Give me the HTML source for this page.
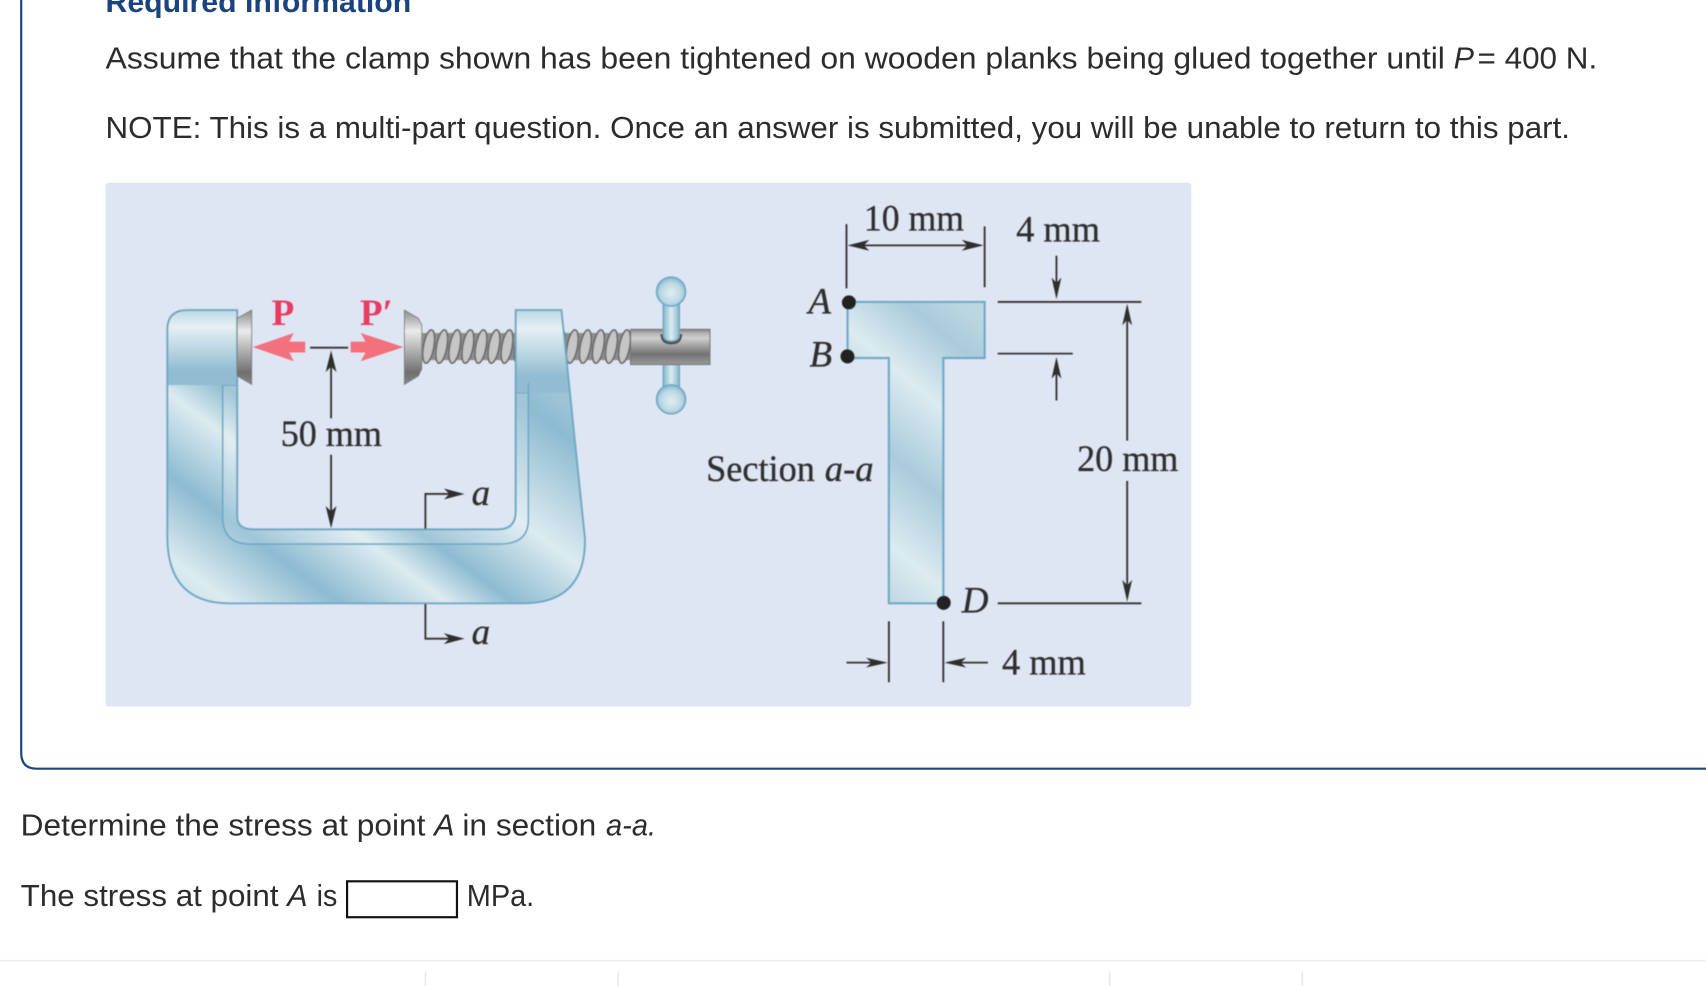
<!DOCTYPE html>
<html lang="en">
<head>
<meta charset="utf-8">
<title>Clamp stress question</title>
<style>
html,body{margin:0;padding:0;background:#fff;width:1706px;height:986px;overflow:hidden}
svg{display:block}
.t{font-family:"Liberation Sans",sans-serif;font-size:28px;fill:#2c2c2c}
.i{font-style:italic}
.s{font-family:"Liberation Serif",serif;font-size:34px;fill:#2f2f2f;stroke:#2f2f2f;stroke-width:.3}
.l{stroke:#333;stroke-width:1.7;fill:none}
.h{fill:#2f2f2f;stroke:none}
</style>
</head>
<body>
<svg xmlns="http://www.w3.org/2000/svg" width="1706" height="986" viewBox="0 0 1568 906.2">
<defs>
<linearGradient id="stripe" gradientUnits="userSpaceOnUse" x1="0" y1="420" x2="211.2" y2="138.4">
<stop offset="0" stop-color="#cfe3ea"/><stop offset=".055" stop-color="#dcebf0"/><stop offset=".227" stop-color="#8dbbd1"/><stop offset=".398" stop-color="#dcebf0"/><stop offset=".5" stop-color="#8dbbd1"/><stop offset=".68" stop-color="#dcebf0"/><stop offset=".93" stop-color="#8dbbd1"/><stop offset="1" stop-color="#9cc4d6"/>
</linearGradient>
<linearGradient id="head" x1="0" y1="0" x2="0" y2="1">
<stop offset="0" stop-color="#bcd9e4"/><stop offset=".22" stop-color="#e6f0f4"/><stop offset=".55" stop-color="#b6d4e0"/><stop offset=".8" stop-color="#92bcd2"/><stop offset="1" stop-color="#92bcd2"/>
</linearGradient>
<linearGradient id="gray" x1="0" y1="0" x2="0" y2="1">
<stop offset="0" stop-color="#8a8a8a"/><stop offset=".28" stop-color="#ececec"/><stop offset=".55" stop-color="#b0b0b0"/><stop offset=".85" stop-color="#6e6e6e"/><stop offset="1" stop-color="#8a8a8a"/>
</linearGradient>
<linearGradient id="block" x1="0" y1="0" x2="0" y2="1">
<stop offset="0" stop-color="#7f7f7f"/><stop offset=".1" stop-color="#b0b0b0"/><stop offset=".25" stop-color="#cfcfcf"/><stop offset=".7" stop-color="#737373"/><stop offset="1" stop-color="#9a9a9a"/>
</linearGradient>
<linearGradient id="bar" x1="0" y1="0" x2="1" y2="0">
<stop offset="0" stop-color="#86b6cd"/><stop offset=".5" stop-color="#dcebf1"/><stop offset="1" stop-color="#86b6cd"/>
</linearGradient>
<radialGradient id="ball" cx=".5" cy=".55" r=".55">
<stop offset="0" stop-color="#e0edf2"/><stop offset=".65" stop-color="#bcd8e4"/><stop offset="1" stop-color="#85b5cc"/>
</radialGradient>
<linearGradient id="tee" gradientUnits="userSpaceOnUse" x1="817" y1="564.45" x2="999.6" y2="349.65">
<stop offset="0" stop-color="#b8d4e0"/><stop offset=".176" stop-color="#dcebf0"/><stop offset=".4" stop-color="#a9cbdb"/><stop offset=".624" stop-color="#dcebf0"/><stop offset=".81" stop-color="#a9cbdb"/><stop offset=".93" stop-color="#bcd7e2"/><stop offset="1" stop-color="#c0d9e3"/>
</linearGradient>
<pattern id="thread" patternUnits="userSpaceOnUse" width="12" height="33" x="388" y="302">
<rect y="4" width="12" height="25" fill="#8f8f8f"/>
<ellipse cx="6" cy="16.500" rx="4.800" ry="15.500" fill="#c6c6c6" stroke="#666" stroke-width="1.500" transform="rotate(10 6 16.500)"/>
</pattern>
<filter id="soft" x="-2%" y="-2%" width="104%" height="104%"><feGaussianBlur stdDeviation="0.45"/></filter>
</defs>

<rect width="1568" height="907" fill="#fff"/>

<!-- question box -->
<path d="M19.500 -5 V692 Q19.500 706.500 34 706.500 H1570" fill="none" stroke="#1c4580" stroke-width="2"/>

<text x="97" y="11" font-family="Liberation Sans,sans-serif" font-weight="700" font-size="27" fill="#1a4480" textLength="281" lengthAdjust="spacingAndGlyphs">Required Information</text>

<text class="t" x="97" y="63" textLength="1231" lengthAdjust="spacingAndGlyphs">Assume that the clamp shown has been tightened on wooden planks being glued together until</text>
<text class="t i" x="1336" y="63">P</text>
<text class="t" x="1358" y="63" textLength="110" lengthAdjust="spacingAndGlyphs">= 400 N.</text>
<text class="t" x="97" y="127" textLength="1346" lengthAdjust="spacingAndGlyphs">NOTE: This is a multi-part question. Once an answer is submitted, you will be unable to return to this part.</text>

<!-- panel -->
<rect x="97" y="168" width="998" height="481.500" rx="3" fill="#dfe6f3"/>

<g filter="url(#soft)">
<!-- screw threads (behind clamp) -->
<rect x="388" y="302" width="87" height="33" fill="url(#thread)"/>
<rect x="510" y="302" width="70" height="33" fill="url(#thread)"/>

<!-- clamp body -->
<path d="M153.800 303 Q153.800 285 172 285 H218 V475 Q218 486.500 233 486.500 H458 Q474 486.500 474 470 V285 H516 L537.700 496 Q537.700 554.500 481 554.500 H211 Q153.800 554.500 153.800 493 Z" fill="url(#stripe)"/>
<!-- rib -->
<path d="M204.700 354 V475 Q204.700 500 230 500 H459 Q485.600 500 485.600 478 V361 H474 V470 Q474 486.500 458 486.500 H233 Q218 486.500 218 475 V354 Z" fill="#fff" fill-opacity=".16" stroke="#6fa8c4" stroke-width="1.500"/>
<!-- heads -->
<path d="M153.800 354 V303 Q153.800 285 172 285 H218 V354 Z" fill="url(#head)"/>
<path d="M473.400 285 H516 L523.600 361 H473.400 Z" fill="url(#head)"/>
<path d="M485.600 352 V372" stroke="#6fa8c4" stroke-width="1.400" fill="none"/>
<!-- clamp outline -->
<path d="M153.800 303 Q153.800 285 172 285 H218 V475 Q218 486.500 233 486.500 H458 Q474 486.500 474 470 V285 H516 L537.700 496 Q537.700 554.500 481 554.500 H211 Q153.800 554.500 153.800 493 Z" fill="none" stroke="#6fa8c4" stroke-width="1.800"/>

<!-- pads -->
<path d="M218 292.500 L231.300 285 V353.200 L218 345.500 Z" fill="url(#gray)" stroke="#7a7a7a" stroke-width=".8"/>
<path d="M371.700 285 L384.500 292.500 L387.600 298.500 V339 L384.500 345.500 L371.700 353.200 Z" fill="url(#gray)" stroke="#7a7a7a" stroke-width=".8"/>

<!-- handle -->
<rect x="609.600" y="335" width="14.800" height="28" fill="url(#bar)" stroke="#6fa8c4" stroke-width="1.300"/>
<rect x="579.600" y="302.700" width="72.900" height="32.300" fill="url(#block)" stroke="#777" stroke-width="1"/>
<path d="M607.500 307 Q607.500 316 617 316 Q626.500 316 626.500 307" fill="#555" stroke="#444" stroke-width="1"/>
<path d="M609.600 276 V307 Q609.600 313.500 617 313.500 Q624.400 313.500 624.400 307 V276 Z" fill="url(#bar)" stroke="#6fa8c4" stroke-width="1.300"/>
<circle cx="616.800" cy="268" r="13.300" fill="url(#ball)" stroke="#6fa8c4" stroke-width="1.500"/>
<circle cx="616.800" cy="367" r="13.300" fill="url(#ball)" stroke="#6fa8c4" stroke-width="1.500"/>

<!-- force arrows -->
<path d="M232.300 319 L270 306 L266 314 H280.500 V324 H266 L270 332 Z" fill="#f2717c"/>
<path d="M322.300 314 H336 L331.500 306 L370.800 319 L331.500 332 L336 324 H322.300 Z" fill="#f2717c"/>
<text x="260" y="298.500" font-family="Liberation Serif,serif" font-weight="700" font-size="34" fill="#e83a60" text-anchor="middle">P</text>
<text x="346" y="298.500" font-family="Liberation Serif,serif" font-weight="700" font-size="34" fill="#e83a60" text-anchor="middle">P′</text>

<!-- 50 mm -->
<path class="l" d="M285 319.500 H320" stroke-width="2"/>
<path class="l" d="M304.300 330 V384.500"/>
<path class="h" d="M304.300 322 L299.300 342 L304.300 337 L309.300 342 Z"/>
<text class="s" x="258" y="410" textLength="93" lengthAdjust="spacingAndGlyphs">50 mm</text>
<path class="l" d="M304.300 418 V478"/>
<path class="h" d="M304.300 485.600 L299.300 465 L304.300 470 L309.300 465 Z"/>

<!-- section marks -->
<path class="l" d="M391 486 V454 H422"/>
<path class="h" d="M427 454 L408 449 L413 454 L408 459 Z"/>
<text class="s i" x="433.500" y="464" font-size="33">a</text>
<path class="l" d="M391 555 V587 H422"/>
<path class="h" d="M427 587 L408 582 L413 587 L408 592 Z"/>
<text class="s i" x="433.500" y="592" font-size="33">a</text>

<!-- section T -->
<path d="M779 277.500 H905 V329 H867 V554.500 H817 V329 H779 Z" fill="url(#tee)" stroke="#6fa9c6" stroke-width="2"/>
<circle cx="780.300" cy="278" r="6.500" fill="#222"/>
<circle cx="779" cy="327.500" r="6.500" fill="#222"/>
<circle cx="867.300" cy="554" r="6.500" fill="#222"/>
<text class="s i" x="743" y="288" font-size="31">A</text>
<text class="s i" x="744" y="337" font-size="31">B</text>
<text class="s i" x="884" y="563" font-size="32">D</text>
<text class="s" x="649" y="442" textLength="100" lengthAdjust="spacingAndGlyphs">Section</text>
<text class="s i" x="758" y="442" textLength="45" lengthAdjust="spacingAndGlyphs">a-a</text>

<!-- 10 mm -->
<text class="s" x="794" y="212" textLength="92" lengthAdjust="spacingAndGlyphs">10 mm</text>
<path class="l" d="M778 206 V265 M905 208 V264 M782 225.500 H901"/>
<path class="h" d="M779 225.500 L799 220.500 L794 225.500 L799 230.500 Z"/>
<path class="h" d="M904 225.500 L884 220.500 L889 225.500 L884 230.500 Z"/>

<!-- 4 mm top -->
<text class="s" x="934" y="222" textLength="77" lengthAdjust="spacingAndGlyphs">4 mm</text>
<path class="l" d="M971 235 V270"/>
<path class="h" d="M971 275 L966.500 255 L971 260 L975.500 255 Z"/>
<path class="l" d="M917 277.500 H1049 M917 325 H986" stroke-width="2"/>
<path class="l" d="M971 333 V368"/>
<path class="h" d="M971 328 L966.500 348 L971 343 L975.500 348 Z"/>

<!-- 20 mm -->
<path class="l" d="M1036 284 V405"/>
<path class="h" d="M1036 279 L1031.500 299 L1036 294 L1040.500 299 Z"/>
<text class="s" x="990" y="433" textLength="93" lengthAdjust="spacingAndGlyphs">20 mm</text>
<path class="l" d="M1036 442 V548"/>
<path class="h" d="M1036 553 L1031.500 533 L1036 538 L1040.500 533 Z"/>
<path class="l" d="M917 554.500 H1049" stroke-width="2"/>

<!-- 4 mm bottom -->
<path class="l" d="M817 571 V627 M867 571 V627 M778 609 H812 M872 609 H908"/>
<path class="h" d="M816 609 L796 604.500 L801 609 L796 613.500 Z"/>
<path class="h" d="M868 609 L888 604.500 L883 609 L888 613.500 Z"/>
<text class="s" x="921" y="620" textLength="77" lengthAdjust="spacingAndGlyphs">4 mm</text>
</g>

<!-- lower text -->
<text class="t" x="19" y="768" textLength="372" lengthAdjust="spacingAndGlyphs">Determine the stress at point</text>
<text class="t i" x="399" y="768">A</text>
<text class="t" x="425" y="768" textLength="123" lengthAdjust="spacingAndGlyphs">in section</text>
<text class="t i" x="557" y="768" textLength="46" lengthAdjust="spacingAndGlyphs">a-a.</text>

<text class="t" x="19" y="832.500" textLength="237" lengthAdjust="spacingAndGlyphs">The stress at point</text>
<text class="t i" x="264" y="832.500">A</text>
<text class="t" x="291" y="832.500" textLength="19" lengthAdjust="spacingAndGlyphs">is</text>
<rect x="319" y="810" width="101" height="33" fill="#fff" stroke="#111" stroke-width="2"/>
<text class="t" x="429" y="832.500" textLength="62" lengthAdjust="spacingAndGlyphs">MPa.</text>

<!-- bottom rules -->
<path d="M0 883 H1568" stroke="#eeeeee" stroke-width="1.500"/>
<path d="M391 893 V907 M568 893 V907 M1020 893 V907 M1197 893 V907" stroke="#e8e8e8" stroke-width="1.500"/>
</svg>
</body>
</html>
